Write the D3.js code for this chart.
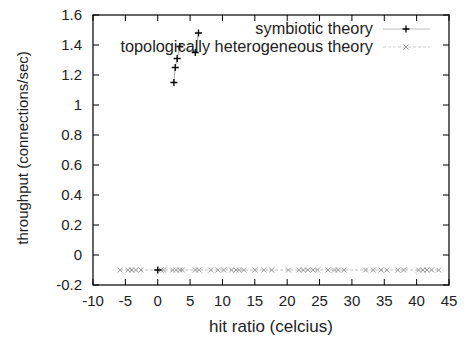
<!DOCTYPE html>
<html>
<head>
<meta charset="utf-8">
<script src="https://cdn.jsdelivr.net/npm/d3@7"></script>
<style>
  body { margin: 0; background: #fff; }
  text { font-family: "Liberation Sans", Arial, sans-serif; font-size: 15px; fill: #222; }
  .big { font-size: 17px; }
  .leg { font-size: 16.3px; }
</style>
</head>
<body>
<div id="chart"></div>
<script>
// symbiotic theory (null breaks the line)
var symX = [0, null, 2.5, 2.7, 3.0, 3.4, 5.8, 6.3];
var symY = [-0.1, null, 1.15, 1.25, 1.31, 1.39, 1.35, 1.48];

// topologically heterogeneous theory
var topoX = [-5.8, -4.6, -4, -3.4, -2.6, 0.5, 0.9, 2.3, 2.8, 3.4, 3.8, 5.8, 6.4, 8.2, 9.3, 10.2,
             11.4, 12.1, 12.6, 13.3, 15, 16.4, 17.6, 20.2, 21.8, 22.5, 23.2, 24, 24.7, 26.3, 27.3,
             27.9, 28.8, 32.1, 33.3, 34.5, 35.4, 37.1, 38, 40.3, 41, 41.6, 42.3, 43.4];
var topoY = topoX.map(function() { return -0.1; });

var xTicks = [-10, -5, 0, 5, 10, 15, 20, 25, 30, 35, 40, 45];
var yTicks = [-0.2, 0, 0.2, 0.4, 0.6, 0.8, 1, 1.2, 1.4, 1.6];

var width = 464, height = 339;
var margin = { top: 15, right: 15, bottom: 54, left: 93 };

var svg = d3.select('#chart').append('svg')
    .attr('width', width)
    .attr('height', height);

var x = d3.scaleLinear().domain([-10, 45]).range([margin.left, width - margin.right]);
var y = d3.scaleLinear().domain([-0.2, 1.6]).range([height - margin.bottom, margin.top]);

var tickLen = 6;

// ticks on all four sides, pointing inward
var g = svg.append('g');
xTicks.forEach(function(t) {
    g.append('line').attr('x1', x(t)).attr('x2', x(t))
        .attr('y1', y(-0.2)).attr('y2', y(-0.2) - tickLen).attr('stroke', '#000');
    g.append('line').attr('x1', x(t)).attr('x2', x(t))
        .attr('y1', y(1.6)).attr('y2', y(1.6) + tickLen).attr('stroke', '#000');
    g.append('text').attr('x', x(t)).attr('y', y(-0.2) + 21)
        .attr('text-anchor', 'middle').text(t);
});
yTicks.forEach(function(t) {
    g.append('line').attr('x1', x(-10)).attr('x2', x(-10) + tickLen)
        .attr('y1', y(t)).attr('y2', y(t)).attr('stroke', '#000');
    g.append('line').attr('x1', x(45)).attr('x2', x(45) - tickLen)
        .attr('y1', y(t)).attr('y2', y(t)).attr('stroke', '#000');
    g.append('text').attr('x', x(-10) - 11).attr('y', y(t) + 5)
        .attr('text-anchor', 'end').text(+t.toFixed(1));
});

svg.append('rect')
    .attr('x', x(-10)).attr('y', y(1.6))
    .attr('width', x(45) - x(-10)).attr('height', y(-0.2) - y(1.6))
    .attr('fill', 'none').attr('stroke', '#000').attr('stroke-width', 1.2);

// axis titles
svg.append('text').attr('class', 'big').attr('x', 271).attr('y', 332)
    .attr('text-anchor', 'middle').text('hit ratio (celcius)');
svg.append('text').attr('transform', 'translate(28,148) rotate(-90)')
    .attr('text-anchor', 'middle').text('throughput (connections/sec)');

function plusPath(cx, cy) {
    var s = 3.5;
    return 'M' + (cx - s) + ',' + cy + 'H' + (cx + s) + 'M' + cx + ',' + (cy - s) + 'V' + (cy + s);
}
function crossPath(cx, cy) {
    var s = 2.5;
    return 'M' + (cx - s) + ',' + (cy - s) + 'L' + (cx + s) + ',' + (cy + s) +
           'M' + (cx - s) + ',' + (cy + s) + 'L' + (cx + s) + ',' + (cy - s);
}

// series 2: topologically heterogeneous theory
var topo = topoX.map(function(d, i) { return { x: d, y: topoY[i] }; });
svg.append('path').datum(topo)
    .attr('fill', 'none').attr('stroke', '#bbb').attr('stroke-width', 1)
    .attr('stroke-dasharray', '3,2')
    .attr('d', d3.line().x(function(d) { return x(d.x); }).y(function(d) { return y(d.y); }));
svg.append('g').selectAll('path').data(topo).enter().append('path')
    .attr('d', function(d) { return crossPath(x(d.x), y(d.y)); })
    .attr('stroke', '#999').attr('stroke-width', 1).attr('fill', 'none');

// series 1: symbiotic theory
var sym = symX.map(function(d, i) { return { x: d, y: symY[i] }; });
svg.append('path').datum(sym)
    .attr('fill', 'none').attr('stroke', '#aaa').attr('stroke-width', 1)
    .attr('d', d3.line().defined(function(d) { return d.x !== null; })
        .x(function(d) { return x(d.x); }).y(function(d) { return y(d.y); }));
svg.append('g').selectAll('path').data(sym.filter(function(d) { return d.x !== null; }))
    .enter().append('path')
    .attr('d', function(d) { return plusPath(x(d.x), y(d.y)); })
    .attr('stroke', '#000').attr('stroke-width', 1.3).attr('fill', 'none');

// legend
var legend = svg.append('g');
legend.append('text').attr('class', 'leg').attr('x', 373).attr('y', 34)
    .attr('text-anchor', 'end').text('symbiotic theory');
legend.append('line').attr('x1', 383).attr('x2', 430).attr('y1', 29).attr('y2', 29)
    .attr('stroke', '#bbb');
legend.append('path').attr('d', plusPath(406, 29)).attr('stroke', '#000').attr('stroke-width', 1.3);
legend.append('text').attr('class', 'leg').attr('x', 373).attr('y', 52)
    .attr('text-anchor', 'end').text('topologically heterogeneous theory');
legend.append('line').attr('x1', 383).attr('x2', 430).attr('y1', 47).attr('y2', 47)
    .attr('stroke', '#ccc').attr('stroke-dasharray', '3,2');
legend.append('path').attr('d', crossPath(406, 47)).attr('stroke', '#999');
</script>
</body>
</html>
